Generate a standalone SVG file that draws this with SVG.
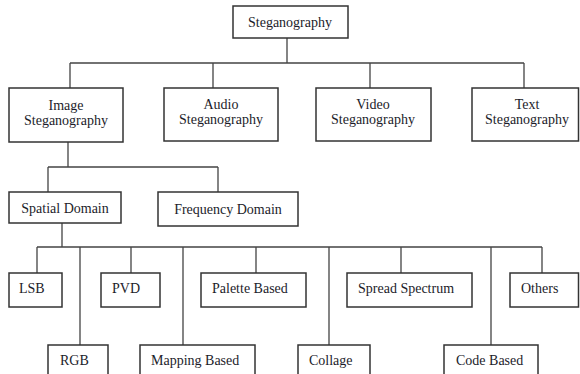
<svg xmlns="http://www.w3.org/2000/svg" width="580" height="374" viewBox="0 0 580 374">
<style>
.box{fill:#fff;stroke:#333;stroke-width:1.5}
text{font-family:'Liberation Serif','DejaVu Serif',serif;font-size:14px;fill:#1c1c2a}
.c{text-anchor:middle}
#connectors path{fill:none;stroke:#444;stroke-width:1.3}
</style>
<rect width="580" height="374" fill="#fff"/>
<g id="connectors">
<path d="M287 38V63M70 63H524M70 63V88M213 63V88M370 63V88M524 63V88"/>
<path d="M68 142V167M48 167H218M48 167V192M218 167V192"/>
<path d="M62 223V247M37 247H542M37 247V273M80 247V345M131 247V273M183 247V345M256 247V273M329 247V345M401 247V273M491 247V345M542 247V273"/>
</g>
<g id="steganography"><rect class="box" x="233" y="6" width="115" height="32"/><text class="c" x="290" y="27">Steganography</text></g>
<g id="image"><rect class="box" x="9" y="88" width="114" height="54"/><text class="c" x="66" y="110">Image</text><text class="c" x="66" y="125">Steganography</text></g>
<g id="audio"><rect class="box" x="164" y="88" width="114" height="53"/><text class="c" x="221" y="109">Audio</text><text class="c" x="221" y="124">Steganography</text></g>
<g id="video"><rect class="box" x="316" y="88" width="115" height="53"/><text class="c" x="373" y="109">Video</text><text class="c" x="373" y="124">Steganography</text></g>
<g id="text"><rect class="box" x="472" y="88" width="106.5" height="53"/><text class="c" x="527" y="109">Text</text><text class="c" x="527" y="124">Steganography</text></g>
<g id="spatial"><rect class="box" x="9" y="192" width="112" height="31"/><text class="c" x="65" y="213">Spatial Domain</text></g>
<g id="frequency"><rect class="box" x="158" y="192" width="140" height="34"/><text class="c" x="228" y="214">Frequency Domain</text></g>
<g id="lsb"><rect class="box" x="9" y="273" width="53" height="34"/><text x="19" y="293">LSB</text></g>
<g id="pvd"><rect class="box" x="101" y="273" width="59" height="34"/><text x="112" y="293">PVD</text></g>
<g id="palette"><rect class="box" x="201" y="273" width="105" height="34"/><text x="212" y="293">Palette Based</text></g>
<g id="spread"><rect class="box" x="347" y="273" width="125" height="34"/><text x="358" y="293">Spread Spectrum</text></g>
<g id="others"><rect class="box" x="510" y="273" width="68.5" height="34"/><text x="521" y="293">Others</text></g>
<g id="rgb"><rect class="box" x="48" y="345" width="60" height="40"/><text x="60" y="365">RGB</text></g>
<g id="mapping"><rect class="box" x="140" y="345" width="115" height="40"/><text x="151" y="365">Mapping Based</text></g>
<g id="collage"><rect class="box" x="298" y="345" width="72" height="40"/><text x="309" y="365">Collage</text></g>
<g id="code"><rect class="box" x="444" y="345" width="94" height="40"/><text x="456" y="365">Code Based</text></g>
</svg>
